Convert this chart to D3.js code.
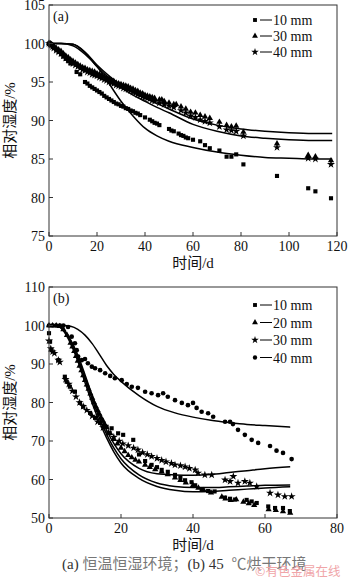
<!DOCTYPE html>
<html>
<head>
<meta charset="utf-8">
<title>相对湿度</title>
<script src="https://d3js.org/d3.v7.min.js"></script>
<style>
  body { margin: 0; background: #fff; }
  svg text { font-family: "Liberation Serif", "Noto Sans CJK SC", serif; fill: #111; }
</style>
</head>
<body>
<svg id="chart" width="350" height="580"></svg>
<script>
// ---- panel (a): constant temperature / humidity ----
var aTicksX = [0, 20, 40, 60, 80, 100, 120];
var aTicksY = [75, 80, 85, 90, 95, 100, 105];
var aLegend = ["10 mm", "30 mm", "40 mm"];

var aCurveDays = [0, 5, 10, 15, 20, 25, 30, 35, 40, 45, 50, 60, 70, 80, 90, 100, 110, 118];
var aCurve10 = [100, 100, 99.7, 98.6, 97.0, 94.8, 92.5, 90.6, 89.0, 88.0, 87.3, 86.5, 85.9, 85.5, 85.2, 85.1, 85.0, 85.0];
var aCurve30 = [100, 100, 99.9, 98.9, 97.2, 95.8, 94.6, 93.7, 92.9, 92.2, 91.5, 90.2, 89.4, 88.9, 88.6, 88.4, 88.3, 88.3];
var aCurve40 = [100, 100, 99.9, 98.8, 97.0, 95.5, 94.3, 93.3, 92.5, 91.7, 91.0, 89.5, 88.6, 88.0, 87.7, 87.5, 87.4, 87.4];

var aPts10 = [[0,100],[0.5,99.9],[1,99.8],[1.5,99.7],[2,99.5],[3,99.2],[4,98.9],[5,98.6],[6,98.3],[7,98.0],[8,97.7],[9,97.4],
  [11.5,96.3],[13,96.0],[15,95.0],[16,94.8],[17,94.5],[18,94.3],[19,94.1],[20,93.9],[21,93.7],[22,93.5],[23,93.2],[24,93.0],
  [25,92.8],[26,92.6],[27,92.4],[28,92.2],[29,92.1],[30,91.9],[31,91.8],[32,91.6],[33,91.5],[34,91.3],[35,91.2],[36,91.0],
  [37,90.9],[38,90.7],[40,90.4],[42,90.1],[43,89.9],[44,89.7],[45,89.6],[46,89.4],[50,88.9],[51,88.7],[52,88.6],[54,88.3],
  [55,88.1],[56,88.0],[57,87.8],[58,87.7],[60,87.5],[63,87.3],[65,86.8],[67,86.4],[71,86.1],[74,85.3],[76,85.3],[78,85.6],
  [81,84.3],[95,82.8],[108,81.2],[111,80.8],[117.5,79.9]];
var aPts30 = [[0,100],[0.5,100],[1,99.9],[1.5,99.8],[2,99.6],[3,99.4],[4,99.2],[5,99.0],[6,98.7],[7,98.4],[8,98.2],[9,97.9],
  [10,97.7],[11,97.5],[12,97.3],[13,97.1],[14,96.9],[15,96.8],[16,96.6],[17,96.5],[18,96.4],[19,96.3],[20,96.1],[21,96.0],
  [22,95.8],[23,95.7],[24,95.5],[25,95.4],[26,95.2],[27,95.1],[28,94.9],[29,94.8],[30,94.7],[31,94.6],[32,94.5],[33,94.4],
  [34,94.2],[35,94.1],[36,93.9],[37,93.8],[38,93.6],[39,93.5],[40,93.3],[41,93.2],[42,93.1],[43,93.0],[44,92.9],[46,92.7],
  [47,92.7],[48,92.5],[50,92.3],[52,92.1],[53,92.1],[55,91.8],[57,91.5],[59,91.1],[61,91.0],[63,90.7],[65,90.5],[67,90.3],
  [71,89.8],[74,89.4],[76,89.2],[78,89.3],[81,88.5],[95,87.0],[108,85.5],[111,85.3],[117.5,84.8]];
var aPts40 = [[0,100],[0.5,99.9],[1,99.8],[1.5,99.6],[2,99.4],[3,99.1],[4,98.9],[5,98.7],[6,98.4],[7,98.1],[8,97.9],[9,97.6],
  [10,97.4],[11,97.2],[12,97.0],[13,96.8],[14,96.6],[15,96.5],[16,96.3],[17,96.2],[18,96.0],[19,95.9],[20,95.8],[21,95.6],
  [22,95.5],[23,95.3],[24,95.2],[25,95.0],[26,94.9],[27,94.8],[28,94.6],[29,94.5],[30,94.4],[31,94.2],[32,94.1],[33,94.0],
  [34,93.9],[35,93.7],[36,93.6],[37,93.4],[38,93.3],[39,93.1],[40,93.0],[41,92.9],[42,92.8],[43,92.6],[44,92.5],[46,92.3],
  [48,92.1],[50,91.9],[52,91.7],[55,91.3],[57,91.0],[59,90.6],[61,90.4],[63,90.1],[65,89.9],[67,89.7],[71,89.2],[74,88.8],
  [76,88.7],[78,88.6],[81,88.0],[95,86.5],[108,85.1],[111,85.0],[117.5,84.3]];

// ---- panel (b): 45 C drying ----
var bTicksX = [0, 20, 40, 60, 80];
var bTicksY = [50, 60, 70, 80, 90, 100, 110];
var bLegend = ["10 mm", "20 mm", "30 mm", "40 mm"];

var bCurveDays = [0, 2, 4, 6, 8, 10, 12, 14, 16, 18, 20, 25, 30, 35, 40, 45, 50, 55, 60, 67];
var bCurve10 = [100, 100, 98.6, 95.3, 90.8, 85.2, 79.8, 75.0, 70.8, 67.2, 64.3, 60.3, 58.2, 57.2, 56.8, 56.9, 57.2, 57.5, 57.8, 58.1];
var bCurve20 = [100, 100, 98.8, 95.8, 91.5, 86.2, 80.8, 76.0, 71.8, 68.2, 65.4, 61.2, 59.1, 58.2, 57.9, 57.9, 58.1, 58.3, 58.5, 58.6];
var bCurve30 = [100, 100, 99.0, 96.3, 92.3, 87.2, 81.8, 77.0, 72.8, 69.4, 66.7, 62.9, 61.5, 61.2, 61.1, 61.3, 61.8, 62.3, 62.8, 63.3];
var bCurve40 = [100, 100, 100, 99.8, 99.0, 97.5, 95.3, 92.5, 89.6, 87.3, 85.5, 81.8, 79.0, 77.3, 76.2, 75.4, 74.8, 74.3, 74.0, 73.6];

var bPts10 = [[0,98],[0.3,95.8],[0.7,93.6],[2.6,91],[4.4,86.7],[4.9,85.4],[5.8,84.1],[7.2,82.8],[8.6,79.9],[9.5,78.9],
  [11.4,77.3],[12.8,76],[14.2,74.7],[16,73.7],[17.4,73.3],[19.2,72],[20.6,71.6],[23.4,70.3],[25,66.5],[26.7,64.8],[28.5,63.8],
  [30,63.2],[31.3,62.5],[33,62],[35,61.2],[36.5,60.5],[37.8,59.8],[39.6,59.3],[40.6,58.5],[42.4,57.5],[44.2,57],[46,56.9],
  [48.9,55.3],[50.3,55],[51.7,54.8],[54.9,54.7],[56.3,54.3],[57.7,53.9],[60.9,53],[62.8,52.6],[65,52.6],[66.9,51.8]];
var bPts20 = [[0,100],[1,100],[2,100],[3,99.8],[4,99],[5,97.5],[6,95.5],[6.5,94.5],[7,93.3],[7.5,92],[8,90.8],[8.5,89.5],
  [9,88.3],[9.5,87],[10,85.8],[10.5,84.6],[11,83.5],[11.5,82.3],[12,81.2],[12.5,80],[13,79],[13.5,78],[14,77],[14.5,76],
  [15,75.2],[15.5,74.3],[16,73.5],[17,72],[18,70.5],[19,69.3],[20,68.2],[21,67.3],[22,66.3],[23,65.7],[24,65.1],[25,64.6],
  [26.7,63.8],[28,63.2],[29.5,62.6],[31.3,62],[33,61.3],[35,60.5],[36.5,59.8],[38,59.2],[40,58.5],[41.5,57.8],[43,57.2],
  [45,56.6],[48,55.5],[49,55],[50.5,54.6],[52,54.8],[54,54.2],[55.5,53.8],[57,53.3],[61,52.2],[63,52],[65,51.7],[67,51.3]];
var bPts30 = [[0,96],[0.5,94],[1,93.2],[1.5,92.8],[2.6,91],[3,90.5],[4.6,86],[5.5,84.8],[6.5,83],[7.5,81.5],[8.5,80],[9.5,79],
  [10.5,78],[12,76.5],[13.5,75],[15,73.5],[16.5,72.2],[18,71],[19.5,70],[20.5,69.3],[22,68.8],[23.5,68.2],[24.7,67.7],[26,67],
  [27.3,66.5],[28.5,66],[30,65.5],[31.3,65],[32.5,64.6],[34,64.2],[35,63.8],[36.5,63.6],[37.8,63.3],[39,62.9],[40.6,62.5],
  [41.4,61.7],[43.3,61.2],[45.2,61.2],[48.9,59.9],[50.3,59.5],[51.2,60.8],[52.5,59.1],[54.4,59.5],[55.8,59.1],[57.7,58.2],
  [61.4,56.5],[63.6,56],[65.5,55.6],[67.4,55.6]];
var bPts40 = [[0,100],[1,100],[2,100],[3,100],[4,100],[5.3,99.6],[6.3,97.1],[7.2,95.4],[7.7,93.6],[8.1,91.9],[9.1,91],
  [10,91.3],[10.8,90.2],[11.9,89.3],[12.8,88.9],[14.2,88.4],[15.6,87.6],[17,86.9],[18.3,86.3],[20.2,85.8],[21.6,84.8],
  [23,84.1],[24.7,83.8],[26.7,82.8],[28.5,82.4],[30.3,81.9],[31.7,82.4],[33,81.5],[35,80.6],[36.9,79.9],[38.6,79.3],
  [40,79.9],[41,78.6],[42.4,77.6],[44.2,77.2],[45.6,76.3],[48.9,75],[50.3,75],[51.1,74.4],[52.5,72.9],[54.4,71.6],
  [56.3,70.3],[58.1,69.5],[61.4,68.7],[63.2,67.5],[65,66.9],[67.4,65.3]];

var svg = d3.select("#chart");

drawPanel({
  label: "(a)", top: 5, bottom: 236,
  xDomain: [0, 120], yDomain: [75, 105], xTicks: aTicksX, yTicks: aTicksY,
  curveDays: aCurveDays,
  curves: [aCurve10, aCurve30, aCurve40],
  points: [aPts10, aPts30, aPts40],
  symbols: [d3.symbolSquare, d3.symbolTriangle, d3.symbolStar],
  legend: aLegend, legendY: 20, legendStep: 16
});

drawPanel({
  label: "(b)", top: 287, bottom: 518,
  xDomain: [0, 80], yDomain: [50, 110], xTicks: bTicksX, yTicks: bTicksY,
  curveDays: bCurveDays,
  curves: [bCurve10, bCurve20, bCurve30, bCurve40],
  points: [bPts10, bPts20, bPts30, bPts40],
  symbols: [d3.symbolSquare, d3.symbolTriangle, d3.symbolStar, d3.symbolCircle],
  legend: bLegend, legendY: 305, legendStep: 17.5
});

// caption + watermark
var cap = svg.append("text").attr("x", 62).attr("y", 569).style("font-size", "15px");
cap.append("tspan").text("(a) ").style("fill", "#333");
cap.append("tspan").text("恒温恒湿环境；").style("fill", "#777");
cap.append("tspan").text("(b) 45 ").style("fill", "#333");
cap.append("tspan").attr("dx", 4).text("℃烘干环境").style("fill", "#777");

svg.append("text")
  .attr("x", 255).attr("y", 576)
  .style("font-size", "12.5px")
  .style("fill", "#f0a5a8")
  .style("font-family", "'Noto Sans CJK SC', sans-serif")
  .text("©有色金属在线");

function drawPanel(p) {
  var left = 49, right = 337;
  var x = d3.scaleLinear().domain(p.xDomain).range([left, right]);
  var y = d3.scaleLinear().domain(p.yDomain).range([p.bottom, p.top]);
  var g = svg.append("g");

  var line = d3.line()
    .x(function(d) { return x(d[0]); })
    .y(function(d) { return y(d[1]); })
    .curve(d3.curveMonotoneX);

  // fitted curves
  p.curves.forEach(function(vals) {
    g.append("path")
      .attr("d", line(p.curveDays.map(function(t, i) { return [t, vals[i]]; })))
      .attr("fill", "none")
      .attr("stroke", "#000")
      .attr("stroke-width", 1.5);
  });

  // measured points
  p.points.forEach(function(pts, k) {
    var sym = d3.symbol().type(p.symbols[k]).size(p.symbols[k] === d3.symbolStar ? 20 : 17);
    g.append("g").selectAll("path")
      .data(pts)
      .enter()
      .append("path")
      .attr("d", sym)
      .attr("transform", function(d) { return "translate(" + x(d[0]) + "," + y(d[1]) + ")"; })
      .attr("fill", "#000");
  });

  // frame
  g.append("rect")
    .attr("x", left).attr("y", p.top)
    .attr("width", right - left).attr("height", p.bottom - p.top)
    .attr("fill", "none").attr("stroke", "#333").attr("stroke-width", 1);

  // ticks + labels
  g.append("g").selectAll("line").data(p.xTicks).enter().append("line")
    .attr("x1", function(d) { return x(d); }).attr("x2", function(d) { return x(d); })
    .attr("y1", p.bottom).attr("y2", p.bottom - 4)
    .attr("stroke", "#333");
  g.append("g").selectAll("text").data(p.xTicks).enter().append("text")
    .attr("x", function(d) { return x(d); }).attr("y", p.bottom + 15)
    .attr("text-anchor", "middle").style("font-size", "14px")
    .text(function(d) { return d; });

  g.append("g").selectAll("line").data(p.yTicks).enter().append("line")
    .attr("x1", left).attr("x2", left + 4)
    .attr("y1", function(d) { return y(d); }).attr("y2", function(d) { return y(d); })
    .attr("stroke", "#333");
  g.append("g").selectAll("text").data(p.yTicks).enter().append("text")
    .attr("x", 45).attr("y", function(d) { return y(d) + 5; })
    .attr("text-anchor", "end").style("font-size", "14px")
    .text(function(d) { return d; });

  // axis titles
  g.append("text")
    .attr("x", (left + right) / 2).attr("y", p.bottom + 32)
    .attr("text-anchor", "middle").style("font-size", "15px")
    .text("时间/d");
  g.append("text")
    .attr("transform", "translate(15," + ((p.top + p.bottom) / 2) + ") rotate(-90)")
    .attr("text-anchor", "middle").style("font-size", "15px")
    .text("相对湿度/%");

  g.append("text")
    .attr("x", 53).attr("y", p.top + 16)
    .style("font-size", "14px")
    .text(p.label);

  // legend
  p.legend.forEach(function(name, k) {
    var ly = p.legendY + k * p.legendStep;
    var sym = d3.symbol().type(p.symbols[k]).size(p.symbols[k] === d3.symbolStar ? 18 : 15);
    g.append("path").attr("d", sym).attr("transform", "translate(255," + ly + ")").attr("fill", "#000");
    g.append("line").attr("x1", 260).attr("x2", 272).attr("y1", ly).attr("y2", ly)
      .attr("stroke", "#000").attr("stroke-width", 1);
    g.append("text").attr("x", 273).attr("y", ly + 5).style("font-size", "14px").text(name);
  });
}
</script>
</body>
</html>
